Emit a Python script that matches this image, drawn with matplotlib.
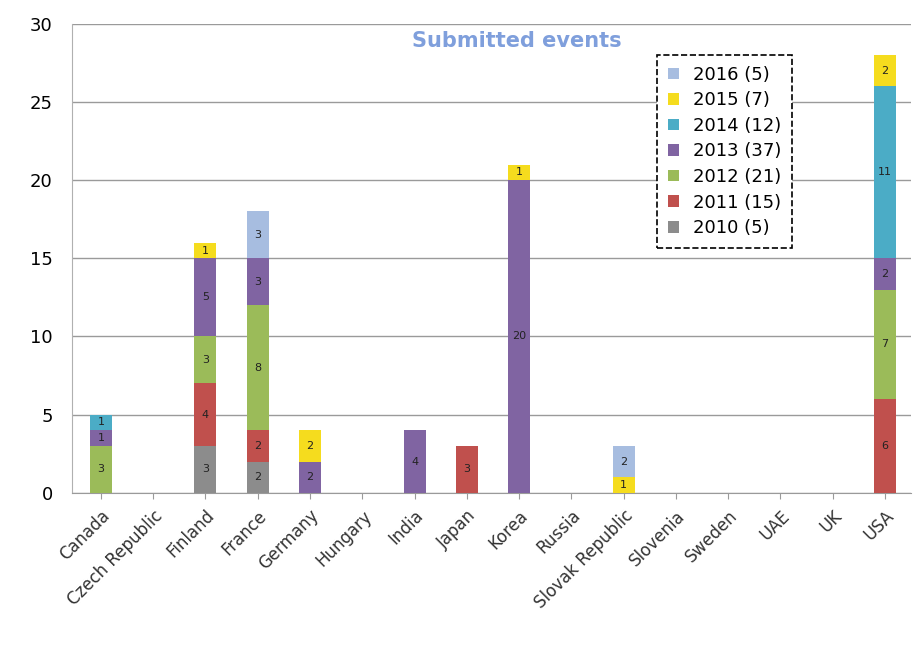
import matplotlib.pyplot as plt
import numpy as np

countries = ['Canada', 'Czech Republic', 'Finland', 'France', 'Germany', 'Hungary',
             'India', 'Japan', 'Korea', 'Russia', 'Slovak Republic', 'Slovenia',
             'Sweden', 'UAE', 'UK', 'USA']
years = ['2010', '2011', '2012', '2013', '2014', '2015', '2016']

# events per year, one value per country (same order as countries)
y2010 = [0, 0, 3, 2, 0, 0, 0, 0, 0, 0, 0, 0, 0, 0, 0, 0]
y2011 = [0, 0, 4, 2, 0, 0, 0, 3, 0, 0, 0, 0, 0, 0, 0, 6]
y2012 = [3, 0, 3, 8, 0, 0, 0, 0, 0, 0, 0, 0, 0, 0, 0, 7]
y2013 = [1, 0, 5, 3, 2, 0, 4, 0, 20, 0, 0, 0, 0, 0, 0, 2]
y2014 = [1, 0, 0, 0, 0, 0, 0, 0, 0, 0, 0, 0, 0, 0, 0, 11]
y2015 = [0, 0, 1, 0, 2, 0, 0, 0, 1, 0, 1, 0, 0, 0, 0, 2]
y2016 = [0, 0, 0, 3, 0, 0, 0, 0, 0, 0, 2, 0, 0, 0, 0, 0]

series = [y2010, y2011, y2012, y2013, y2014, y2015, y2016]
colors = ['#8c8c8c', '#c0504d', '#9bbb59', '#8064a2', '#4bacc6', '#f5dc1e', '#a7bde0']

fig = plt.figure(figsize=(9.13, 6.45), dpi=100)
ax = fig.add_axes([0.079, 0.236, 0.919, 0.727])

x = np.arange(len(countries))
bottom = np.zeros(len(countries))
handles = []
for yr, vals, col in zip(years, series, colors):
    vals = np.array(vals)
    b = ax.bar(x, vals, 0.42, bottom=bottom, color=col, edgecolor='none',
               label='%s (%d)' % (yr, vals.sum()), zorder=3)
    ax.bar_label(b, labels=[str(v) if v > 0 else '' for v in vals],
                 label_type='center', fontsize=8, color='#222222', zorder=4)
    handles.append(b)
    bottom += vals

ax.set_xlim(-0.55, 15.5)
ax.set_ylim(0, 30)
ax.set_yticks(range(0, 31, 5))
ax.yaxis.grid(True, color='#9a9a9a', linewidth=1.0, zorder=0)
ax.set_axisbelow(True)
for s in ['top', 'right']:
    ax.spines[s].set_visible(False)
ax.spines['left'].set_color('#b0b0b0')
ax.spines['bottom'].set_color('#9a9a9a')
ax.tick_params(axis='y', length=0, labelsize=13, pad=14)
ax.tick_params(axis='x', length=4, color='#9a9a9a', pad=6)
ax.set_xticks(x)
ax.set_xticklabels(countries, rotation=45, ha='right', rotation_mode='anchor',
                   fontsize=12, color='#333333')

ax.text(0.53, 0.985, 'Submitted events', transform=ax.transAxes, ha='center',
        va='top', fontsize=15, fontweight='bold', color='#7f9fdc')

leg = ax.legend(handles[::-1], [h.get_label() for h in handles[::-1]],
                loc='upper left', bbox_to_anchor=(0.697, 0.934), fontsize=13,
                handlelength=0.6, handleheight=0.6, handletextpad=0.8,
                labelspacing=0.42, borderpad=0.6, borderaxespad=0,
                fancybox=False, framealpha=1)
leg.get_frame().set_edgecolor('black')
leg.get_frame().set_linestyle('--')
leg.get_frame().set_linewidth(1.2)

fig.savefig('out.png', dpi=100)
